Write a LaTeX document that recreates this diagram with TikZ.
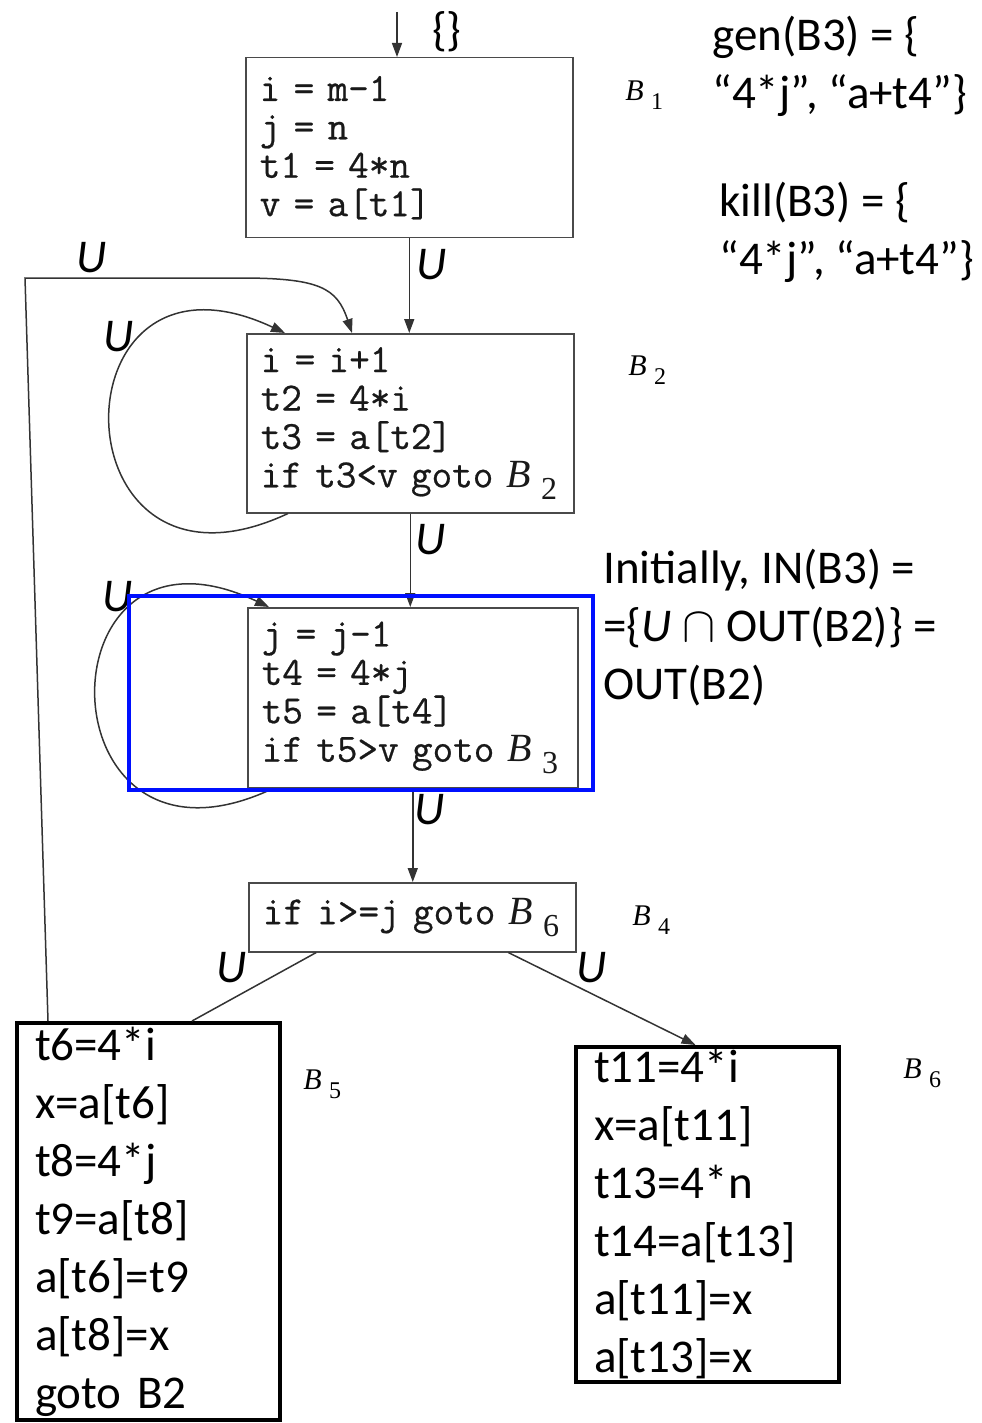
\documentclass[tikz,border=0pt]{standalone}
\usepackage{fontspec}
\setmainfont{Liberation Serif}
\setmonofont{Latin Modern Mono}[FakeBold=0.6]
\newfontfamily\calibri{Carlito}
\usetikzlibrary{arrows.meta}
\definecolor{edge}{HTML}{333333}
\definecolor{boxline}{HTML}{4A4A4A}
\definecolor{hiblue}{HTML}{0010FF}
\newcommand{\blk}[1]{{\rmfamily\itshape B}\kern0.25em\raisebox{-0.3em}{\rmfamily\scalebox{0.8}{#1}}}
\newcommand{\codesize}{\fontsize{20}{19.2}\selectfont\ttfamily}
\newcommand{\notesize}{\fontsize{23.5}{29}\selectfont\calibri}
\tikzset{
  code/.style={rectangle, draw=boxline, line width=0.75pt, anchor=north west,
               align=left, inner xsep=7pt, inner ysep=0pt, text=black!90,
               font=\codesize},
  plain/.style={code, draw=black, line width=2pt, inner xsep=9pt,
                text=black, font=\notesize},
  blab/.style={anchor=west, inner sep=0pt, text=black,
               font=\fontsize{15}{17}\selectfont},
  ulab/.style={inner sep=0pt, font=\notesize\itshape},
  note/.style={anchor=west, align=left, inner sep=0pt, font=\notesize},
  arrow/.style={-{Triangle[length=7pt, width=5pt]}, line width=0.75pt, draw=edge},
  link/.style={line width=0.75pt, draw=edge},
  hilite/.style={draw=hiblue, line width=2pt},
}

\begin{document}
\begin{tikzpicture}[x=0.5pt, y=-0.5pt]
  \useasboundingbox (0,0) rectangle (981,1423);

  % ---- basic blocks ----
  \node[code, text width=149.5pt, minimum height=90pt] (b1) at (245,57)
    {i = m-1\\ j = n\\ t1 = 4*n\\ v = a[t1]};
  \node[code, text width=149.5pt, minimum height=89.5pt] (b2) at (246,333)
    {i = i+1\\ t2 = 4*i\\ t3 = a[t2]\\ if t3<v goto~\blk{2}};
  \node[code, text width=151pt, minimum height=90pt] (b3) at (247,607)
    {j = j-1\\ t4 = 4*j\\ t5 = a[t4]\\ if t5>v goto~\blk{3}};
  \node[code, text width=149.5pt, minimum height=34.5pt] (b4) at (248,882)
    {if i>=j goto~\blk{6}};
  \node[plain, text width=113.5pt, minimum height=198.5pt] (b5) at (15,1021)
    {t6=4*i\\ x=a[t6]\\ t8=4*j\\ t9=a[t8]\\ a[t6]=t9\\ a[t8]=x\\ \mbox{goto B2}};
  \node[plain, text width=113.5pt, minimum height=167.5pt] (b6) at (574,1045)
    {t11=4*i\\ x=a[t11]\\ t13=4*n\\ t14=a[t13]\\ a[t11]=x\\ a[t13]=x};

  \node[blab] (l1) at (625,95) {\blk{1}};
  \node[blab] (l2) at (628,370) {\blk{2}};
  \node[blab] (l4) at (632,920) {\blk{4}};
  \node[blab] (l5) at (303,1084) {\blk{5}};
  \node[blab] (l6) at (903,1073) {\blk{6}};

  % ---- notes ----
  \node[note] (gen) at (712,66) {gen(B3) = \{\\ “4*j”, “a+t4”\}};
  \node[note] (kill) at (719,232) {kill(B3) = \{\\ “4*j”, “a+t4”\}};
  \node[note] (init) at (603,628)
    {Initially, IN(B3) =\\ =\{\textit{U} $\cap$ OUT(B2)\} =\\ OUT(B2)};
  \node[note, anchor=center] (empty) at (447,32) {\{\}};

  % ---- U labels ----
  \node[ulab] (u1) at (92,258) {U};
  \node[ulab] (u2) at (432,265) {U};
  \node[ulab] (u3) at (119,337) {U};
  \node[ulab] (u4) at (431,540) {U};
  \node[ulab] (u5) at (118,597) {U};
  \node[ulab] (u6) at (430,810) {U};
  \node[ulab] (u7) at (232,968) {U};
  \node[ulab] (u8) at (592,968) {U};

  % ---- edges ----
  \coordinate (entry) at (397,12);
  \coordinate (back) at (25,278);
  \draw[arrow] (entry) -- (entry |- b1.north);
  \draw[arrow] (b1.south) -- (b1.south |- b2.north);
  \draw[arrow] (b2.south) -- (b2.south |- b3.north);
  \draw[arrow] (b3.south) -- (b3.south |- b4.north);
  \draw[link] ([xshift=-48pt]b4.south) -- ([xshift=21.75pt]b5.north);
  \draw[arrow] ([xshift=48pt]b4.south) -- ([xshift=-6pt]b6.north);
  \draw[arrow] ([xshift=21pt]b2.south west)
    .. controls +(-235,110) and +(-235,-110) .. ([xshift=19.5pt]b2.north west);
  \draw[arrow] ([xshift=13pt]b3.south west)
    .. controls +(-233,110) and +(-233,-110) .. ([xshift=11pt]b3.north west);
  \draw[arrow] ([xshift=16.5pt]b5.north west) -- (back) -- ++(215,0)
    .. controls +(80,0) and +(-15,-45) .. ([xshift=53pt]b2.north west);

  \draw[hilite] (129,596) rectangle (593,790);
\end{tikzpicture}
\end{document}
